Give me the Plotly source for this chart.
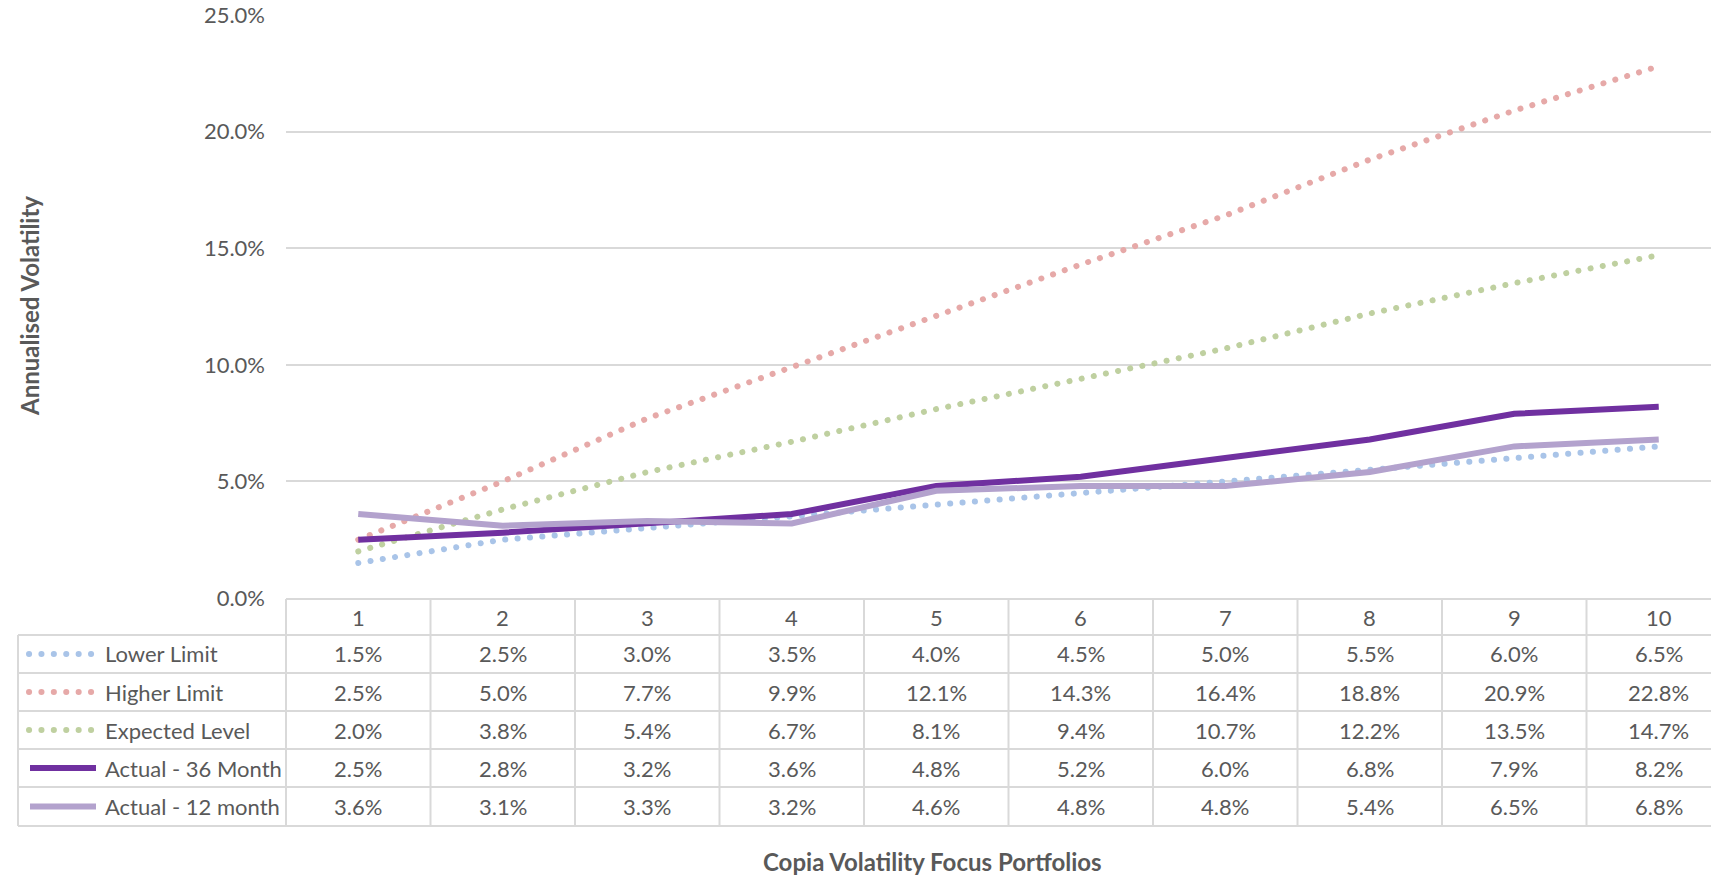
import plotly.graph_objects as go

categories = [1, 2, 3, 4, 5, 6, 7, 8, 9, 10]
lower_limit = [1.5, 2.5, 3.0, 3.5, 4.0, 4.5, 5.0, 5.5, 6.0, 6.5]
higher_limit = [2.5, 5.0, 7.7, 9.9, 12.1, 14.3, 16.4, 18.8, 20.9, 22.8]
expected_level = [2.0, 3.8, 5.4, 6.7, 8.1, 9.4, 10.7, 12.2, 13.5, 14.7]
actual_36 = [2.5, 2.8, 3.2, 3.6, 4.8, 5.2, 6.0, 6.8, 7.9, 8.2]
actual_12 = [3.6, 3.1, 3.3, 3.2, 4.6, 4.8, 4.8, 5.4, 6.5, 6.8]
series_names = ["Lower Limit", "Higher Limit", "Expected Level", "Actual - 36 Month", "Actual - 12 month"]
y_ticks = [0, 5, 10, 15, 20, 25]

series = [lower_limit, higher_limit, expected_level, actual_36, actual_12]
colors = ["#a9c4e8", "#e6a9a8", "#bfd0a0", "#7030a0", "#b3a2cd"]
dotted = [True, True, True, False, False]

W, H = 1711, 876
L, R, T, B = 286, 1711, 15, 598
COLW = 144.5
FONT = "Lato"
GREY = "#595959"
LINEC = "#d9d9d9"
FS = 22

def px2x(px):
    return (px - L) / (R - L)

def py2y(py):
    return (B - py) / (B - T)

fig = go.Figure()
for name, vals, col, dot in zip(series_names, series, colors, dotted):
    if dot:
        line = dict(color=col, width=6, dash="0.1px,12.3px")
    else:
        line = dict(color=col, width=6)
    fig.add_trace(go.Scatter(x=categories, y=vals, mode="lines", name=name,
                             line=line, showlegend=False, hoverinfo="skip"))

shapes = []
shapes.append(dict(type="line", xref="paper", yref="paper", x0=px2x(286), x1=px2x(1711),
                   y0=py2y(599), y1=py2y(599), line=dict(color=LINEC, width=2)))
row_lines = [635, 673, 711, 749, 787, 826]
for ry in row_lines:
    shapes.append(dict(type="line", xref="paper", yref="paper", x0=px2x(18), x1=px2x(1711),
                       y0=py2y(ry), y1=py2y(ry), line=dict(color=LINEC, width=2)))
shapes.append(dict(type="line", xref="paper", yref="paper", x0=px2x(18), x1=px2x(18),
                   y0=py2y(635), y1=py2y(826), line=dict(color=LINEC, width=2)))
for k in range(10):
    vx = L + COLW * k
    shapes.append(dict(type="line", xref="paper", yref="paper", x0=px2x(vx), x1=px2x(vx),
                       y0=py2y(599), y1=py2y(826), line=dict(color=LINEC, width=2)))

annotations = []
header_cy = 617
row_cy = [(row_lines[i] + row_lines[i + 1]) / 2 for i in range(5)]
for c in categories:
    annotations.append(dict(x=c, y=py2y(header_cy), xref="x", yref="paper", text=str(c),
                            showarrow=False, xanchor="center", yanchor="middle",
                            font=dict(family=FONT, size=FS, color=GREY)))
for i, (name, vals, col, dot) in enumerate(zip(series_names, series, colors, dotted)):
    cy = row_cy[i]
    for c, v in zip(categories, vals):
        annotations.append(dict(x=c, y=py2y(cy), xref="x", yref="paper", text=f"{v:.1f}%",
                                showarrow=False, xanchor="center", yanchor="middle",
                                font=dict(family=FONT, size=FS, color=GREY)))
    annotations.append(dict(x=px2x(103), y=py2y(cy), xref="paper", yref="paper", text=name,
                            showarrow=False, xanchor="left", yanchor="middle",
                            font=dict(family=FONT, size=FS, color=GREY)))
    if dot:
        kline = dict(color=col, width=6, dash="0.1px,12.3px")
        shapes.append(dict(type="line", xref="paper", yref="paper", x0=px2x(29), x1=px2x(96),
                           y0=py2y(cy), y1=py2y(cy), line=kline))
    else:
        shapes.append(dict(type="line", xref="paper", yref="paper", x0=px2x(30), x1=px2x(96),
                           y0=py2y(cy), y1=py2y(cy), line=dict(color=col, width=6)))

annotations.append(dict(x=px2x(932), y=py2y(862), xref="paper", yref="paper",
                        text="<b>Copia Volatility Focus Portfolios</b>", showarrow=False,
                        xanchor="center", yanchor="middle",
                        font=dict(family=FONT, size=24, color=GREY)))
annotations.append(dict(x=px2x(29), y=py2y(306), xref="paper", yref="paper",
                        text="<b>Annualised Volatility</b>", showarrow=False, textangle=-90,
                        xanchor="center", yanchor="middle",
                        font=dict(family=FONT, size=24, color=GREY)))

fig.update_layout(
    width=W, height=H,
    margin=dict(l=L, r=W - R, t=T, b=H - B, pad=0),
    plot_bgcolor="white", paper_bgcolor="white",
    shapes=shapes, annotations=annotations,
    xaxis=dict(range=[0.5, 0.5 + (R - L) / COLW], showgrid=False, showticklabels=False,
               zeroline=False, showline=False, ticks=""),
    yaxis=dict(range=[0, 25], tickvals=y_ticks, ticktext=[f"{t:.1f}%" for t in y_ticks],
               showgrid=True, gridcolor=LINEC, gridwidth=2, zeroline=False, showline=False,
               ticks="", ticklabelstandoff=20,
               tickfont=dict(family=FONT, size=FS, color=GREY)),
)

post = """
document.body.style.margin = '0';
document.body.style.padding = '0';
document.body.style.overflow = 'hidden';
var gd = document.getElementById('{plot_id}');
function rc() {
  gd.querySelectorAll('path').forEach(function(p) {
    var d = p.style.strokeDasharray;
    if (d && d !== 'none' && d.indexOf('0.1') === 0) { p.style.strokeLinecap = 'round'; }
  });
}
rc(); setTimeout(rc, 50); setTimeout(rc, 300);
if (gd.on) { gd.on('plotly_afterplot', rc); }
"""
fig.write_html("out.html", post_script=post, config={"displayModeBar": False})
